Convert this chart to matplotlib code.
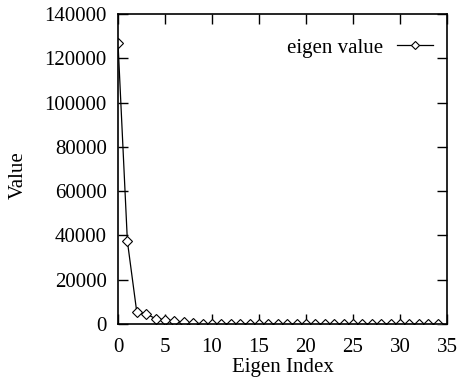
import matplotlib
matplotlib.use("Agg")
import matplotlib.pyplot as plt

plt.rcParams['font.family'] = ['Liberation Serif', 'DejaVu Serif']

eigen_index = list(range(35))
eigen_values = [127000, 37300, 5300, 4600, 2400, 1900, 1400, 800, 300, 200,
                150, 120, 100, 90, 80, 70, 60, 55, 50, 45,
                40, 38, 35, 32, 30, 28, 26, 24, 22, 20,
                18, 16, 14, 12, 10]
x_ticks = [0, 5, 10, 15, 20, 25, 30, 35]
y_ticks = [0, 20000, 40000, 60000, 80000, 100000, 120000, 140000]

FS = 15
fig = plt.figure(figsize=(4.62, 3.86), dpi=100)
ax = fig.add_axes([118/462, 62/386, 329/462, 310/386])
ax.plot(eigen_index, eigen_values, color='black', linewidth=0.9,
        marker='D', markersize=5.2, markerfacecolor='white',
        markeredgecolor='black', markeredgewidth=0.8, label='eigen value')
ax.set_xlim(0, 35)
ax.set_ylim(0, 140000)
ax.set_xticks(x_ticks)
ax.set_yticks(y_ticks)
ax.tick_params(direction='in', top=True, right=True, length=7, width=1,
               labelsize=FS)
ax.tick_params(axis='y', pad=8)
ax.tick_params(axis='x', pad=10)
for s in ax.spines.values():
    s.set_linewidth(1.2)
ax.set_xlabel('Eigen Index', fontsize=FS, labelpad=1)
ax.set_ylabel('Value', fontsize=FS)
ax.yaxis.set_label_coords(-0.274, 0.48)
ax.legend(loc='upper right', bbox_to_anchor=(1, 0.966), frameon=False,
          markerfirst=False, fontsize=FS, handlelength=1.75,
          handletextpad=0.65, borderaxespad=0.25, markerscale=0.85)
fig.savefig('out.png', dpi=100)
